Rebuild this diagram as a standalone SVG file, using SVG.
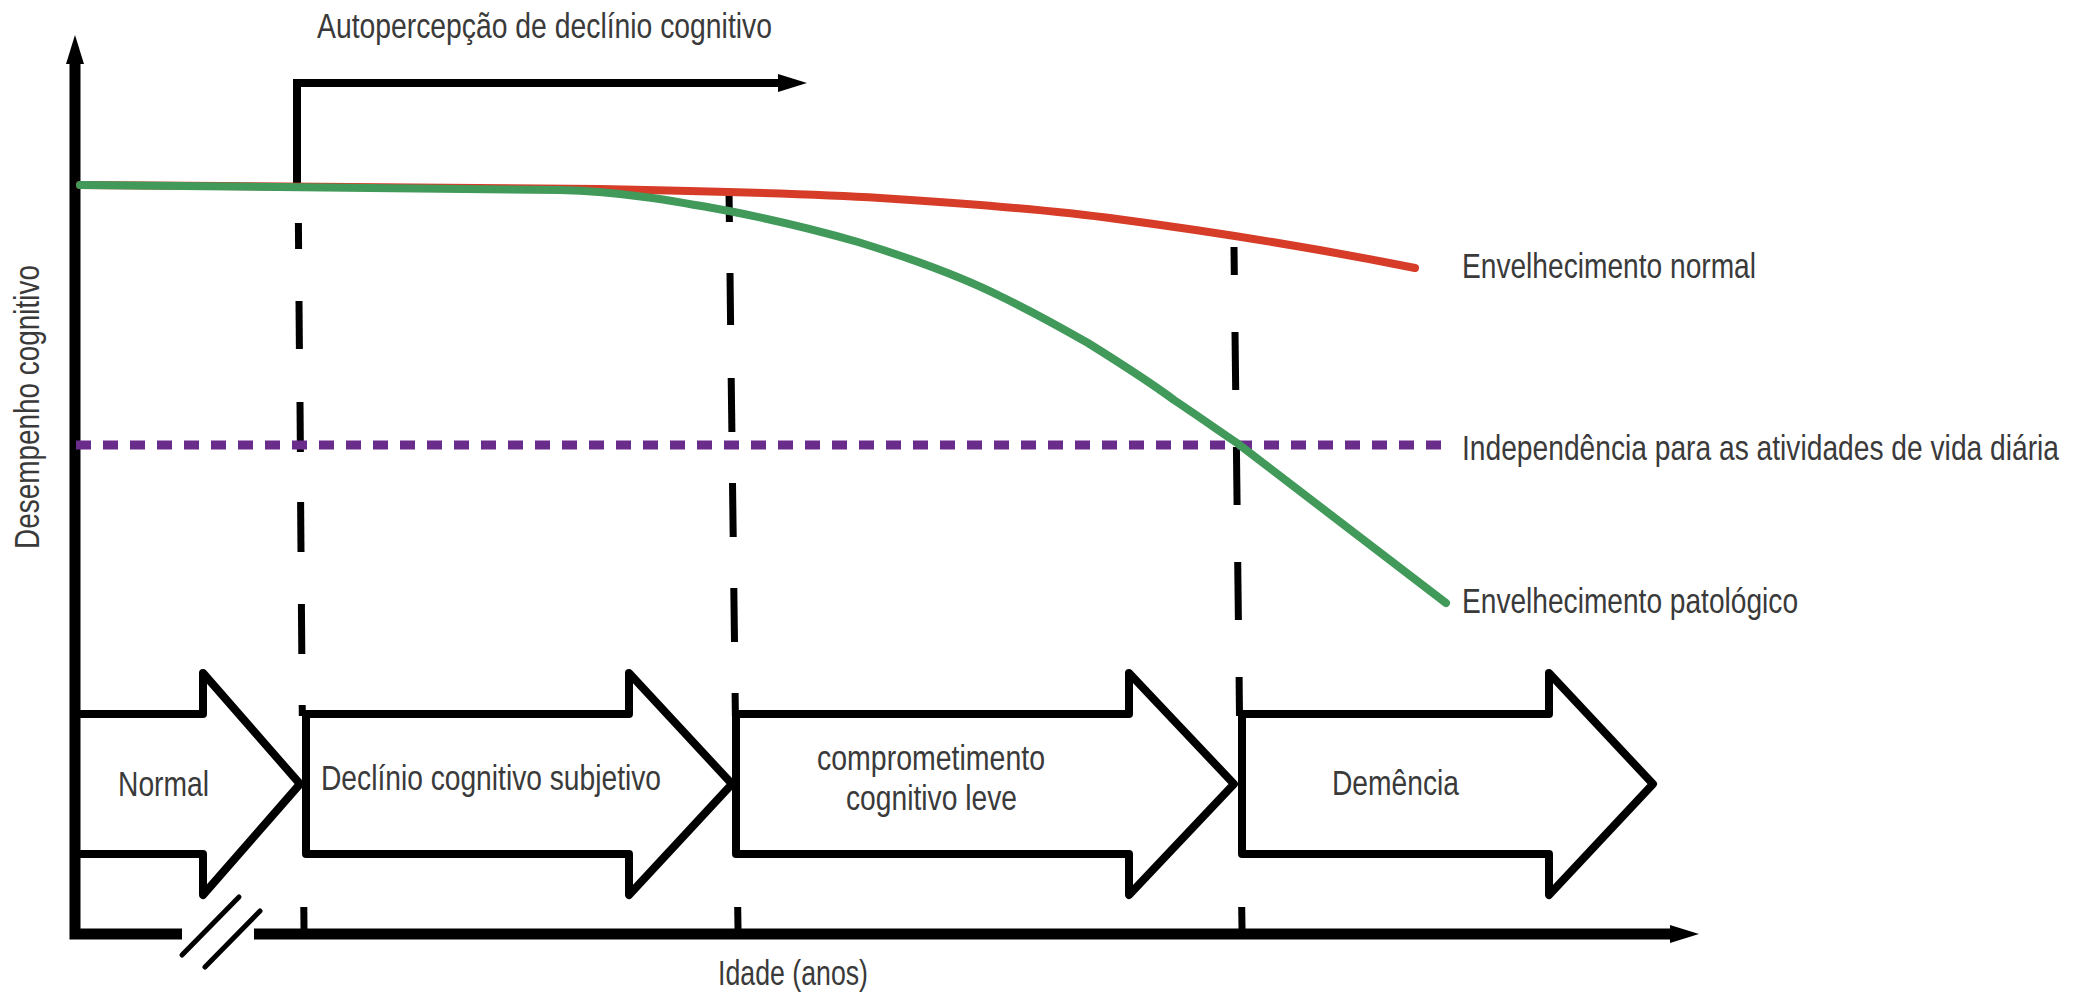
<svg xmlns="http://www.w3.org/2000/svg" width="2076" height="992" viewBox="0 0 2076 992">
<style>
text{font-family:"Liberation Sans",Arial,sans-serif;font-size:36px;fill:#3a3a3a;}
.ax{fill:none;stroke:#000;stroke-width:11;stroke-linejoin:miter;}
.br{fill:none;stroke:#000;stroke-width:8;}
.brk{stroke:#000;stroke-width:5;stroke-linecap:round;}
.dash{stroke:#000;stroke-width:7;stroke-linecap:butt;}
.blk{fill:none;stroke:#000;stroke-width:8;stroke-linejoin:round;}
.purp{fill:none;stroke:#6a2c8b;stroke-width:9;stroke-dasharray:15 12;}
.red{fill:none;stroke:#d63c28;stroke-width:8;stroke-linecap:round;}
.grn{fill:none;stroke:#41995a;stroke-width:8;stroke-linecap:round;}
</style>
<defs>
<marker id="ah" markerUnits="userSpaceOnUse" markerWidth="30" markerHeight="18" refX="0" refY="9" orient="auto" viewBox="0 0 30 18"><path d="M0,0 L29,9 L0,18 Z" fill="#000"/></marker>
</defs>
<g id="axes">
<path class="ax" d="M182,934 H75 V64" marker-end="url(#ah)"/>
<path class="ax" d="M254,934 H1670" marker-end="url(#ah)"/>
<line class="brk" x1="239" y1="897" x2="182" y2="955"/>
<line class="brk" x1="260" y1="911" x2="205" y2="967"/>
</g>
<g id="connectors">
<path class="br" d="M297,187 V83 H778" marker-end="url(#ah)"/>
<g id="dash1">
<line class="dash" x1="298.4" y1="223" x2="298.6" y2="249"/>
<line class="dash" x1="299" y1="301" x2="299.4" y2="349"/>
<line class="dash" x1="300" y1="402" x2="300.4" y2="452"/>
<line class="dash" x1="300.6" y1="502" x2="301" y2="552"/>
<line class="dash" x1="301.4" y1="604" x2="301.8" y2="654"/>
<line class="dash" x1="302.2" y1="705" x2="302.3" y2="716"/>
<line class="dash" x1="303.8" y1="907" x2="304" y2="929"/>
</g>
<g id="dash2">
<line class="dash" x1="729" y1="190" x2="729.4" y2="222"/>
<line class="dash" x1="730" y1="273" x2="730.6" y2="325"/>
<line class="dash" x1="731.2" y1="378" x2="731.9" y2="432"/>
<line class="dash" x1="732.5" y1="483" x2="733.2" y2="537"/>
<line class="dash" x1="733.8" y1="588" x2="734.5" y2="642"/>
<line class="dash" x1="735.1" y1="693" x2="735.4" y2="716"/>
<line class="dash" x1="737.7" y1="907" x2="738" y2="929"/>
</g>
<g id="dash3">
<line class="dash" x1="1234" y1="247" x2="1234.3" y2="275"/>
<line class="dash" x1="1235" y1="332" x2="1235.7" y2="390"/>
<line class="dash" x1="1236.4" y1="447" x2="1237.1" y2="505"/>
<line class="dash" x1="1237.7" y1="562" x2="1238.4" y2="620"/>
<line class="dash" x1="1239.1" y1="677" x2="1239.5" y2="716"/>
<line class="dash" x1="1241.7" y1="907" x2="1242" y2="929"/>
</g>
<path id="independencia" class="purp" d="M76,445 H1446"/>
<path id="normal-aging" class="red" d="M80,185 L600,189 C700,191 800,193 880,198 C960,203 1050,210 1117,219 C1200,230 1300,245 1415,268"/>
<path id="pathological-aging" class="grn" d="M80,185 L560,190 C620,191 680,202 729,211 C790,223 820,231 858,242 C910,258 960,276 1002,297 C1035,313 1060,327 1088,343 C1120,363 1150,382 1174,400 C1195,414 1215,428 1237,443 L1446,603"/>
</g>
<g id="node-normal">
<path class="blk" d="M80,714 H203 V673 L300,784 L203,895 V854 H80"/>
<text transform="translate(118,796) scale(0.78,1)" textLength="116.7" lengthAdjust="spacingAndGlyphs">Normal</text>
</g>
<g id="node-dcs">
<path class="blk" d="M306,714 H629 V673 L732,784 L629,895 V854 H306 Z"/>
<text transform="translate(321,790) scale(0.78,1)" textLength="435.9" lengthAdjust="spacingAndGlyphs">Declínio cognitivo subjetivo</text>
</g>
<g id="node-ccl">
<path class="blk" d="M736,714 H1129 V673 L1234,784 L1129,895 V854 H736 Z"/>
<text transform="translate(817,770) scale(0.78,1)" textLength="292.3" lengthAdjust="spacingAndGlyphs">comprometimento</text>
<text transform="translate(846,810) scale(0.78,1)" textLength="219.2" lengthAdjust="spacingAndGlyphs">cognitivo leve</text>
</g>
<g id="node-demencia">
<path class="blk" d="M1242,714 H1549 V673 L1653,784 L1549,895 V854 H1242 Z"/>
<text transform="translate(1332,795) scale(0.78,1)" textLength="162.8" lengthAdjust="spacingAndGlyphs">Demência</text>
</g>
<g id="labels">
<text transform="translate(317,38) scale(0.78,1)" textLength="583.3" lengthAdjust="spacingAndGlyphs">Autopercepção de declínio cognitivo</text>
<text transform="translate(1462,278) scale(0.78,1)" textLength="376.9" lengthAdjust="spacingAndGlyphs">Envelhecimento normal</text>
<text transform="translate(1462,460) scale(0.78,1)" textLength="765.4" lengthAdjust="spacingAndGlyphs">Independência para as atividades de vida diária</text>
<text transform="translate(1462,613) scale(0.78,1)" textLength="430.8" lengthAdjust="spacingAndGlyphs">Envelhecimento patológico</text>
<text transform="translate(718,985) scale(0.78,1)" textLength="192.3" lengthAdjust="spacingAndGlyphs">Idade (anos)</text>
<text transform="translate(39,407) rotate(-90) scale(0.78,1)" text-anchor="middle" textLength="364.1" lengthAdjust="spacingAndGlyphs">Desempenho cognitivo</text>
</g>
</svg>
